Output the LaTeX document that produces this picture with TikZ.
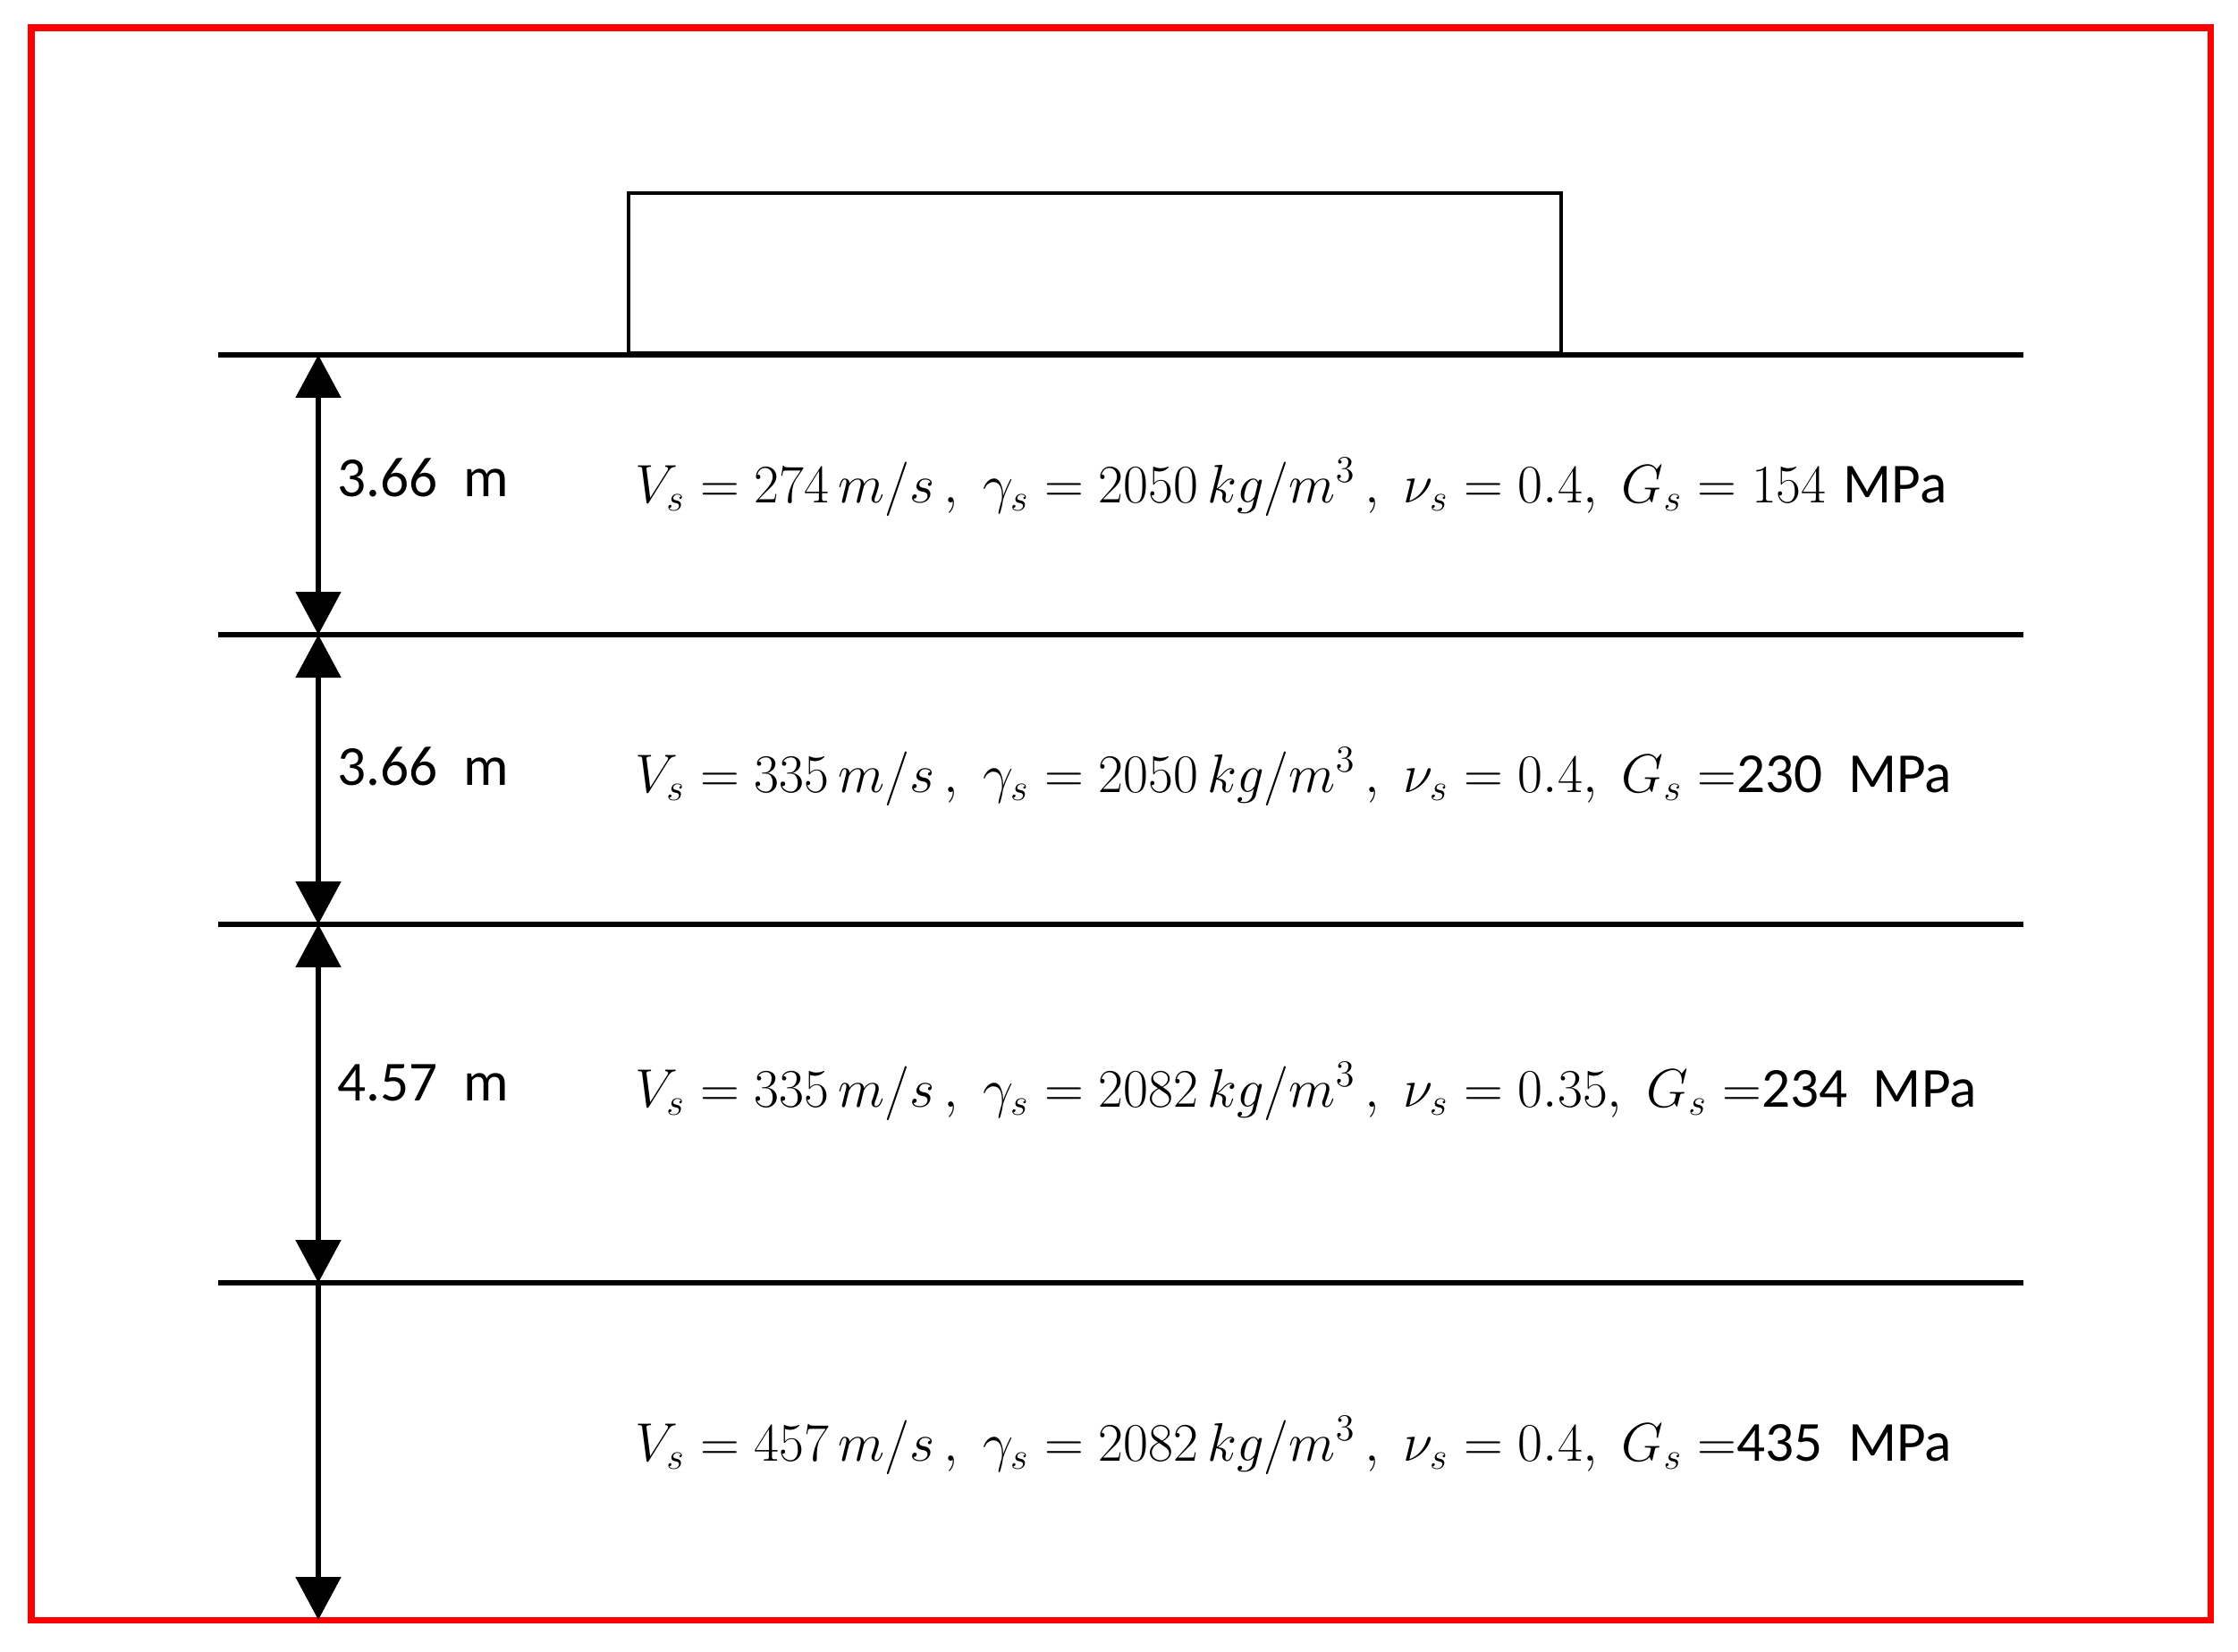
\documentclass[tikz,border=0pt]{standalone}
\usepackage{fontspec}
\setsansfont{Carlito}
\usepackage{tikz}
\usetikzlibrary{arrows.meta}

\tikzset{
  soil/.style={line width=1.5pt},
  dim/.style={line width=1.5pt, {Triangle[length=0.48cm,width=0.5cm]}-{Triangle[length=0.48cm,width=0.5cm]}},
  dimdown/.style={line width=1.5pt, -{Triangle[length=0.48cm,width=0.5cm]}},
  thick/.style={font=\fontsize{18}{22}\selectfont\sffamily, anchor=base west, inner sep=0pt},
  prop/.style={font=\fontsize{18}{22}\selectfont, anchor=base west, inner sep=0pt},
}

\begin{document}
\begin{tikzpicture}

    \useasboundingbox (0,0) rectangle (25.03,-18.48);
    \draw[red, line width=2pt] (0.35,-0.31) rectangle (24.72,-18.12);

    % Define nodes
    \coordinate (L0) at (2.44,-3.97);   \coordinate (R0) at (22.63,-3.97);
    \coordinate (L1) at (2.44,-7.10);   \coordinate (R1) at (22.63,-7.10);
    \coordinate (L2) at (2.44,-10.34);  \coordinate (R2) at (22.63,-10.34);
    \coordinate (L3) at (2.44,-14.35);  \coordinate (R3) at (22.63,-14.35);

    \coordinate (d0) at (3.56,-3.97);
    \coordinate (d1) at (3.56,-7.10);
    \coordinate (d2) at (3.56,-10.34);
    \coordinate (d3) at (3.56,-14.35);
    \coordinate (d4) at (3.56,-18.12);

    \node[draw, line width=1.2pt, minimum width=10.43cm, minimum height=1.79cm, anchor=south west, inner sep=0pt]
         (footing) at (7.01,-3.97) {};

    \node[thick] (h1) at (3.77,-5.55)  {3.66~~m};
    \node[thick] (h2) at (3.77,-8.78)  {3.66~~m};
    \node[thick] (h3) at (3.77,-12.31) {4.57~~m};

    \node[prop] (p1) at (7.10,-5.62)
      {$V_s = 274\,m/s\,,\; \gamma_s = 2050\,kg/m^3\,,\; \nu_s = 0.4,\; G_s = 154$~\textsf{MPa}};
    \node[prop] (p2) at (7.10,-8.86)
      {$V_s = 335\,m/s\,,\; \gamma_s = 2050\,kg/m^3\,,\; \nu_s = 0.4,\; G_s =$\textsf{230~~MPa}};
    \node[prop] (p3) at (7.10,-12.38)
      {$V_s = 335\,m/s\,,\; \gamma_s = 2082\,kg/m^3\,,\; \nu_s = 0.35,\; G_s =$\textsf{234~~MPa}};
    \node[prop] (p4) at (7.10,-16.34)
      {$V_s = 457\,m/s\,,\; \gamma_s = 2082\,kg/m^3\,,\; \nu_s = 0.4,\; G_s =$\textsf{435~~MPa}};

    % Layer boundaries
    \draw[soil] (L0) -- (R0);
    \draw[soil] (L1) -- (R1);
    \draw[soil] (L2) -- (R2);
    \draw[soil] (L3) -- (R3);

    % Thicknesses
    \draw[dim] (d0) -- (d1);
    \draw[dim] (d1) -- (d2);
    \draw[dim] (d2) -- (d3);
    \draw[dimdown] (d3) -- (d4);

\end{tikzpicture}
\end{document}
